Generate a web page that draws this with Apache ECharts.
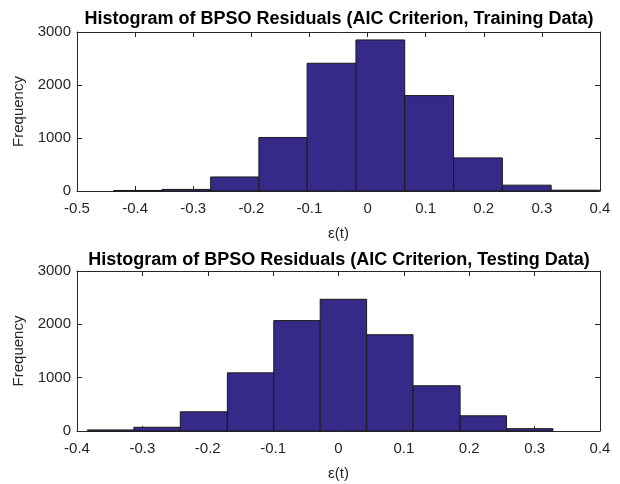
<!DOCTYPE html>
<html>
<head>
<meta charset="utf-8">
<script src="https://cdn.jsdelivr.net/npm/echarts@6/dist/echarts.min.js"></script>
<style>
  html, body { margin: 0; padding: 0; background: #fff; }
  #chart { width: 620px; height: 484px; }
</style>
</head>
<body>
<div id="chart"></div>
<script>
// bin edges and counts
const trainEdges = [ -0.437, -0.354, -0.270, -0.187, -0.104, -0.020, 0.064, 0.148, 0.232, 0.316, 0.399 ]
const trainCounts = [ 10, 30, 265, 1010, 2410, 2850, 1800, 625, 110, 15 ]

const testEdges = [ -0.384, -0.313, -0.242, -0.170, -0.099, -0.028, 0.043, 0.114, 0.186, 0.257, 0.328 ]
const testCounts = [ 20, 70, 360, 1090, 2070, 2470, 1805, 848, 285, 44 ]

const yTicks = [ 0, 1000, 2000, 3000 ]

const chartHolder = document.getElementById('chart')
const chart = echarts.init(chartHolder)

const font = 'Liberation Sans, Arial, Helvetica, sans-serif'
const ink = '#262626'
const barColor = '#352a87'

function binsData (edges, counts) {
  return counts.map((c, i) => [ edges[i], edges[i + 1], c ])
}

function renderBin (params, api) {
  const p0 = api.coord([ api.value(0), api.value(2) ])
  const p1 = api.coord([ api.value(1), 0 ])
  return {
    type: 'rect',
    shape: { x: p0[0], y: p0[1], width: p1[0] - p0[0], height: p1[1] - p0[1] },
    style: { fill: barColor, stroke: '#1a1a1a', lineWidth: 1 }
  }
}

function xAxes (gridIndex, min, max) {
  const base = {
    gridIndex: gridIndex,
    type: 'value',
    min: min,
    max: max,
    interval: 0.1,
    splitLine: { show: false },
    axisLine: { show: true, onZero: false, lineStyle: { color: ink, width: 1 } },
    axisTick: { show: true, inside: true, length: 5, lineStyle: { color: ink } }
  }
  return [
    Object.assign({}, base, {
      position: 'bottom',
      name: 'ε(t)',
      nameLocation: 'middle',
      nameGap: 35,
      nameTextStyle: { color: ink, fontSize: 15, fontFamily: font },
      axisLabel: { color: ink, fontSize: 15, fontFamily: font, margin: 10 }
    }),
    Object.assign({}, base, { position: 'top', axisLabel: { show: false } })
  ]
}

function yAxes (gridIndex) {
  const base = {
    gridIndex: gridIndex,
    type: 'value',
    min: yTicks[0],
    max: yTicks[yTicks.length - 1],
    interval: 1000,
    splitLine: { show: false },
    axisLine: { show: true, onZero: false, lineStyle: { color: ink, width: 1 } },
    axisTick: { show: true, inside: true, length: 5, lineStyle: { color: ink } }
  }
  return [
    Object.assign({}, base, {
      position: 'left',
      name: 'Frequency',
      nameLocation: 'middle',
      nameGap: 45,
      nameTextStyle: { color: ink, fontSize: 15, fontFamily: font },
      axisLabel: {
        color: ink, fontSize: 15, fontFamily: font, margin: 6,
        formatter: v => String(v)
      }
    }),
    Object.assign({}, base, { position: 'right', axisLabel: { show: false } })
  ]
}

const option = {
  animation: false,
  title: [
    {
      text: 'Histogram of BPSO Residuals (AIC Criterion, Training Data)',
      left: 334, top: 5, textAlign: 'center',
      textStyle: { color: '#000', fontSize: 18, fontWeight: 'bold', fontFamily: font }
    },
    {
      text: 'Histogram of BPSO Residuals (AIC Criterion, Testing Data)',
      left: 334, top: 246, textAlign: 'center',
      textStyle: { color: '#000', fontSize: 18, fontWeight: 'bold', fontFamily: font }
    }
  ],
  grid: [
    { left: 77, right: 20, top: 32, height: 159 },
    { left: 77, right: 20, top: 271, height: 160 }
  ],
  xAxis: xAxes(0, -0.5, 0.4).concat(xAxes(1, -0.4, 0.4)),
  yAxis: yAxes(0).concat(yAxes(1)),
  series: [
    {
      name: 'Training',
      type: 'custom',
      xAxisIndex: 0,
      yAxisIndex: 0,
      renderItem: renderBin,
      encode: { x: [ 0, 1 ], y: 2 },
      data: binsData(trainEdges, trainCounts)
    },
    {
      name: 'Testing',
      type: 'custom',
      xAxisIndex: 2,
      yAxisIndex: 2,
      renderItem: renderBin,
      encode: { x: [ 0, 1 ], y: 2 },
      data: binsData(testEdges, testCounts)
    }
  ]
}

chart.setOption(option)
</script>
</body>
</html>
